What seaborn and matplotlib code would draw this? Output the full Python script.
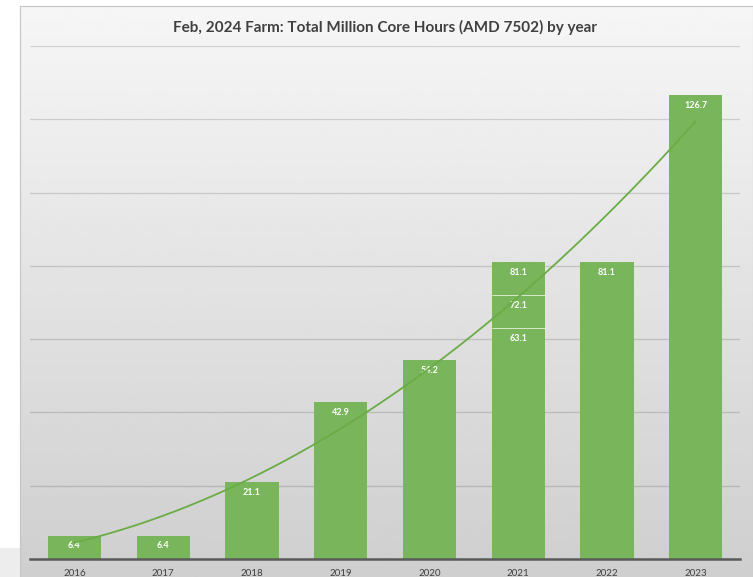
import numpy as np
import pandas as pd
import matplotlib
matplotlib.use('Agg')
import matplotlib.pyplot as plt
import seaborn as sns

years = ['2016', '2017', '2018', '2019', '2020', '2021', '2022', '2023']
hours = [6.4, 6.4, 21.1, 42.9, 54.2, 81.1, 81.1, 126.7]
extra_year = '2021'
extra_hours = [63.1, 72.1]
trend_hours = [6.4, 6.4, 21.1, 42.9, 54.2, 72.1, 81.1, 126.7]
title = 'Feb, 2024 Farm: Total Million Core Hours (AMD 7502) by year'

sns.set_theme(style='white')
plt.rcParams['font.family'] = ['Lato', 'DejaVu Sans']

W, H = 753, 577
green = '#79b55b'
fig = plt.figure(figsize=(W / 100, H / 100), dpi=100)
fig.patch.set_facecolor('white')

# panel background with gradient
bg = fig.add_axes([20 / W, 0, (W - 20) / W, (H - 6) / H])
grad = np.linspace(0.965, 0.81, 256)[:, None]
bg.imshow(grad, cmap='gray', vmin=0, vmax=1, aspect='auto', extent=[0, 1, 0, 1])
bg.set_xticks([]); bg.set_yticks([])
for s in ['top', 'left', 'right']:
    bg.spines[s].set_color('#c4c4c4'); bg.spines[s].set_linewidth(0.8)
bg.spines['bottom'].set_visible(False)

# small artifact strip at lower-left
fig.patches.append(plt.Rectangle((0, 0), 20 / W, 29 / H, transform=fig.transFigure,
                                 facecolor='#ededed', edgecolor='none'))

ax = fig.add_axes([30 / W, 18 / H, 710 / W, (559 - 46) / H])
ax.set_facecolor('none')
df = pd.DataFrame({'year': years, 'hours': hours})
sns.barplot(data=df, x='year', y='hours', color=green, width=0.6, saturation=1,
            ax=ax, zorder=2, linewidth=0, edgecolor='none')
ax.set_ylim(0, 140)
ax.set_xlim(-0.5, 7.5)
ax.set_yticks(range(0, 141, 20))
ax.yaxis.grid(True, color='black', alpha=0.14, lw=0.9)
ax.set_axisbelow(True)
ax.tick_params(axis='y', left=False, labelleft=False)
ax.tick_params(axis='x', bottom=False, length=0, labelsize=7, labelcolor='#404040', pad=7)
ax.set_xlabel(''); ax.set_ylabel('')
for s in ['top', 'left', 'right']:
    ax.spines[s].set_visible(False)
ax.spines['bottom'].set_color('#5a5a5a')
ax.spines['bottom'].set_linewidth(1.8)
ax.spines['bottom'].set_zorder(5)

# overlapping 2021 values
xi = years.index(extra_year)
ax.hlines(extra_hours, xi - 0.3, xi + 0.3, color='white', lw=0.7, alpha=0.7, zorder=3)

for i, v in enumerate(hours):
    ax.annotate(f'{v:.1f}', (i, v), xytext=(0, -7.5), textcoords='offset points',
                ha='center', va='center', color='white', fontsize=6.5,
                fontweight='bold', zorder=3)
for v in extra_hours:
    ax.annotate(f'{v:.1f}', (xi, v), xytext=(0, -7.5), textcoords='offset points',
                ha='center', va='center', color='white', fontsize=6.5,
                fontweight='bold', zorder=3)

# polynomial trendline (order 2)
xnum = np.arange(len(trend_hours))
coef = np.polyfit(xnum, trend_hours, 2)
xs = np.linspace(0, len(trend_hours) - 1, 300)
ax.plot(xs, np.polyval(coef, xs), color='#6aac45', lw=1.3, zorder=4)

fig.text(385 / W, 1 - 27 / H, title, ha='center', va='center', fontsize=11,
         fontweight='bold', color='#404040')

fig.savefig('out.png', dpi=100)
